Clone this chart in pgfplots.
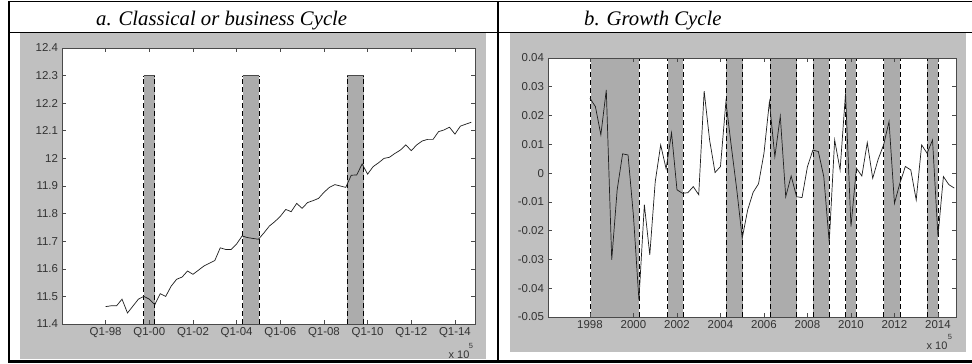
\documentclass[border=0pt]{standalone}
\usepackage{fontspec}
\setmainfont{Liberation Sans}
\newfontfamily\timesf{Liberation Serif}
\usepackage{pgfplots}
\pgfplotsset{compat=1.18}
\definecolor{bggray}{HTML}{C0C0C0}
\definecolor{bargray}{HTML}{ACACAC}
\definecolor{axisgray}{HTML}{4A4A4A}
\definecolor{labgray}{HTML}{333333}
\definecolor{linecol}{HTML}{1E1E1E}
\pgfplotsset{
  mlab/.style={
    scale only axis, anchor=south west,
    axis background/.style={fill=white},
    axis line style={draw=axisgray, line width=0.8bp},
    tick align=inside, major tick length=4bp,
    tick style={draw=axisgray, line width=0.6bp},
    scaled x ticks=false, scaled y ticks=false,
    tick label style={font=\fontsize{11.5}{12}\selectfont, text=labgray},
    yticklabel style={xshift=-0.5bp},
    xticklabel style={yshift=0.5bp},
    axis on top,
  },
  barsty/.style={fill=bargray, draw=none},
  dsh/.style={draw=black, line width=0.8bp, dash pattern=on 5bp off 3bp},
  dat/.style={draw=linecol, line width=0.7bp, mark=none},
}
\begin{document}
\begin{tikzpicture}[x=1bp,y=1bp]
\path[use as bounding box] (0,0) rectangle (972,363);
% frame
\fill[bggray] (20,4) rectangle (486,330);
\fill[bggray] (510,11) rectangle (966,330);
\draw[black, line width=0.9bp] (9,361.5) -- (972,361.5);
\draw[black, line width=0.9bp] (9,331) -- (972,331);
\draw[black, line width=1.6bp] (9,2) -- (9,361.5);
\draw[black, line width=1.6bp] (498,2) -- (498,361.5);
\draw[black, line width=2.5bp] (8,1.5) -- (972,1.5);
\node[anchor=base west, inner sep=0pt, font=\timesf\itshape\fontsize{20.8}{22}\selectfont] at (96,338) {a. Classical or business Cycle};
\node[anchor=base west, inner sep=0pt, font=\timesf\itshape\fontsize{20.8}{22}\selectfont] at (584,338) {b. Growth Cycle};

\begin{axis}[mlab, at={(62bp,39bp)}, width=413bp, height=276bp,
  xmin=1996, xmax=2014.92, ymin=11.4, ymax=12.4,
  xtick={1998,2000,2002,2004,2006,2008,2010,2012,2014},
  xticklabels={Q1-98,Q1-00,Q1-02,Q1-04,Q1-06,Q1-08,Q1-10,Q1-12,Q1-14},
  ytick={11.4,11.5,11.6,11.7,11.8,11.9,12,12.1,12.2,12.3,12.4},
  yticklabels={11.4,11.5,11.6,11.7,11.8,11.9,12,12.1,12.2,12.3,12.4},
]
\addplot[barsty] coordinates {(1999.74,11.4) (1999.74,12.3) (2000.25,12.3) (2000.25,11.4)} -- cycle;
\addplot[barsty] coordinates {(2004.27,11.4) (2004.27,12.3) (2005.03,12.3) (2005.03,11.4)} -- cycle;
\addplot[barsty] coordinates {(2009.06,11.4) (2009.06,12.3) (2009.82,12.3) (2009.82,11.4)} -- cycle;
\addplot[dsh] coordinates {(1999.74,11.4) (1999.74,12.3)};
\addplot[dsh] coordinates {(2000.25,11.4) (2000.25,12.3)};
\addplot[dsh] coordinates {(2004.27,11.4) (2004.27,12.3)};
\addplot[dsh] coordinates {(2005.03,11.4) (2005.03,12.3)};
\addplot[dsh] coordinates {(2009.06,11.4) (2009.06,12.3)};
\addplot[dsh] coordinates {(2009.82,11.4) (2009.82,12.3)};
\addplot[draw=axisgray, line width=0.9bp] coordinates {(1999.74,12.3) (2000.25,12.3)};
\addplot[draw=axisgray, line width=0.9bp] coordinates {(2004.27,12.3) (2005.03,12.3)};
\addplot[draw=axisgray, line width=0.9bp] coordinates {(2009.06,12.3) (2009.82,12.3)};
\addplot[dat] coordinates {
(1998.00,11.463) (1998.25,11.466) (1998.50,11.466) (1998.75,11.49) (1999.00,11.44)
(1999.25,11.465) (1999.50,11.49) (1999.75,11.50) (2000.00,11.49) (2000.25,11.47)
(2000.50,11.51) (2000.75,11.50) (2001.00,11.537) (2001.25,11.562) (2001.50,11.57)
(2001.75,11.592) (2002.00,11.58) (2002.25,11.595) (2002.50,11.61) (2002.75,11.62)
(2003.00,11.63) (2003.25,11.676) (2003.50,11.67) (2003.75,11.67) (2004.00,11.69)
(2004.25,11.719) (2004.50,11.713) (2004.75,11.71) (2005.00,11.707) (2005.25,11.73)
(2005.50,11.755) (2005.75,11.771) (2006.00,11.79) (2006.25,11.815) (2006.50,11.807)
(2006.75,11.837) (2007.00,11.819) (2007.25,11.84) (2007.50,11.847) (2007.75,11.855)
(2008.00,11.877) (2008.25,11.895) (2008.50,11.905) (2008.75,11.90) (2009.00,11.895)
(2009.25,11.939) (2009.50,11.94) (2009.75,11.98) (2010.00,11.943) (2010.25,11.97)
(2010.50,11.984) (2010.75,12.0) (2011.00,12.004) (2011.25,12.018) (2011.50,12.03)
(2011.75,12.049) (2012.00,12.028) (2012.25,12.049) (2012.50,12.063) (2012.75,12.069)
(2013.00,12.069) (2013.25,12.097) (2013.50,12.103) (2013.75,12.113) (2014.00,12.088)
(2014.25,12.117) (2014.50,12.124) (2014.75,12.131)
};
\end{axis}
\node[anchor=base, inner sep=0pt, text=labgray, font=\fontsize{11}{12}\selectfont] at (459,5) {x 10};
\node[anchor=base, inner sep=0pt, text=labgray, font=\fontsize{7.5}{8}\selectfont] at (471,15) {5};

\begin{axis}[mlab, at={(548bp,46bp)}, width=408bp, height=259bp,
  xmin=1996.07, xmax=2014.83, ymin=-0.05, ymax=0.04,
  xtick={1998,2000,2002,2004,2006,2008,2010,2012,2014},
  xticklabels={1998,2000,2002,2004,2006,2008,2010,2012,2014},
  ytick={-0.05,-0.04,-0.03,-0.02,-0.01,0,0.01,0.02,0.03,0.04},
  yticklabels={-0.05,-0.04,-0.03,-0.02,-0.01,0,0.01,0.02,0.03,0.04},
]
\addplot[barsty] coordinates {(1998.03,-0.05) (1998.03,0.04) (2000.27,0.04) (2000.27,-0.05)} -- cycle;
\addplot[barsty] coordinates {(2001.57,-0.05) (2001.57,0.04) (2002.29,0.04) (2002.29,-0.05)} -- cycle;
\addplot[barsty] coordinates {(2004.25,-0.05) (2004.25,0.04) (2005.02,0.04) (2005.02,-0.05)} -- cycle;
\addplot[barsty] coordinates {(2006.28,-0.05) (2006.28,0.04) (2007.50,0.04) (2007.50,-0.05)} -- cycle;
\addplot[barsty] coordinates {(2008.27,-0.05) (2008.27,0.04) (2009.00,0.04) (2009.00,-0.05)} -- cycle;
\addplot[barsty] coordinates {(2009.76,-0.05) (2009.76,0.04) (2010.24,0.04) (2010.24,-0.05)} -- cycle;
\addplot[barsty] coordinates {(2011.50,-0.05) (2011.50,0.04) (2012.27,0.04) (2012.27,-0.05)} -- cycle;
\addplot[barsty] coordinates {(2013.50,-0.05) (2013.50,0.04) (2014.00,0.04) (2014.00,-0.05)} -- cycle;
\addplot[dsh] coordinates {(1998.03,-0.05) (1998.03,0.04)};
\addplot[dsh] coordinates {(2000.27,-0.05) (2000.27,0.04)};
\addplot[dsh] coordinates {(2001.57,-0.05) (2001.57,0.04)};
\addplot[dsh] coordinates {(2002.29,-0.05) (2002.29,0.04)};
\addplot[dsh] coordinates {(2004.25,-0.05) (2004.25,0.04)};
\addplot[dsh] coordinates {(2005.02,-0.05) (2005.02,0.04)};
\addplot[dsh] coordinates {(2006.28,-0.05) (2006.28,0.04)};
\addplot[dsh] coordinates {(2007.50,-0.05) (2007.50,0.04)};
\addplot[dsh] coordinates {(2008.27,-0.05) (2008.27,0.04)};
\addplot[dsh] coordinates {(2009.00,-0.05) (2009.00,0.04)};
\addplot[dsh] coordinates {(2009.76,-0.05) (2009.76,0.04)};
\addplot[dsh] coordinates {(2010.24,-0.05) (2010.24,0.04)};
\addplot[dsh] coordinates {(2011.50,-0.05) (2011.50,0.04)};
\addplot[dsh] coordinates {(2012.27,-0.05) (2012.27,0.04)};
\addplot[dsh] coordinates {(2013.50,-0.05) (2013.50,0.04)};
\addplot[dsh] coordinates {(2014.00,-0.05) (2014.00,0.04)};
\addplot[dat] coordinates {
(1998.00,0.026) (1998.25,0.0231) (1998.50,0.0133) (1998.75,0.0289) (1999.00,-0.0301)
(1999.25,-0.0058) (1999.50,0.0067) (1999.75,0.0063) (2000.00,-0.015) (2000.25,-0.044)
(2000.50,-0.011) (2000.75,-0.0284) (2001.00,-0.003) (2001.25,0.0098) (2001.50,0.0015)
(2001.75,0.014) (2002.00,-0.0058) (2002.25,-0.007) (2002.50,-0.0068) (2002.75,-0.0047)
(2003.00,-0.0075) (2003.25,0.0285) (2003.50,0.0115) (2003.75,0.0002) (2004.00,0.0023)
(2004.25,0.0248) (2004.50,0.0092) (2004.75,-0.0058) (2005.00,-0.0226) (2005.25,-0.0128)
(2005.50,-0.0067) (2005.75,-0.0037) (2006.00,0.0069) (2006.25,0.0248) (2006.50,0.0057)
(2006.75,0.0198) (2007.00,-0.0082) (2007.25,-0.001) (2007.50,-0.0082) (2007.75,-0.0085)
(2008.00,0.0023) (2008.25,0.008) (2008.50,0.0075) (2008.75,-0.0012) (2009.00,-0.024)
(2009.25,0.0115) (2009.50,0.0011) (2009.75,0.0277) (2010.00,-0.0186) (2010.25,0.0017)
(2010.50,-0.001) (2010.75,0.0106) (2011.00,-0.0018) (2011.25,0.0048) (2011.50,0.0098)
(2011.75,0.0179) (2012.00,-0.0105) (2012.25,-0.0035) (2012.50,0.0023) (2012.75,0.0011)
(2013.00,-0.0093) (2013.25,0.0098) (2013.50,0.0069) (2013.75,0.0115) (2014.00,-0.022)
(2014.25,-0.0012) (2014.50,-0.004) (2014.75,-0.0052)
};
\end{axis}
\node[anchor=base, inner sep=0pt, text=labgray, font=\fontsize{11}{12}\selectfont] at (937,14) {x 10};
\node[anchor=base, inner sep=0pt, text=labgray, font=\fontsize{7.5}{8}\selectfont] at (950,24) {5};
\end{tikzpicture}
\end{document}
